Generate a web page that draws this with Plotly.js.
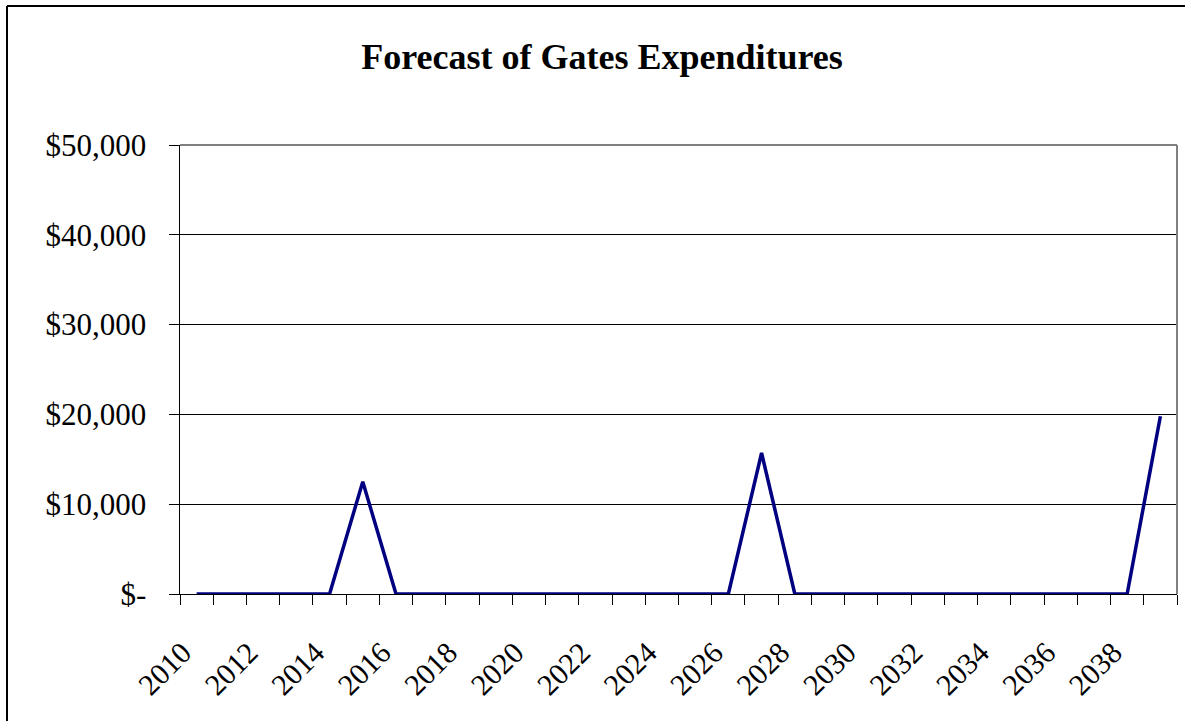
<!DOCTYPE html>
<html>
<head>
<meta charset="utf-8">
<script src="https://cdn.plot.ly/plotly-3.0.1.min.js"></script>
<style>
html,body{margin:0;padding:0;background:#fff;}
#chart{width:1185px;height:721px;}
</style>
</head>
<body>
<div id="chart"></div>
<script>
var years = [2010,2011,2012,2013,2014,2015,2016,2017,2018,2019,2020,2021,2022,2023,2024,2025,2026,2027,2028,2029,2030,2031,2032,2033,2034,2035,2036,2037,2038,2039];
var expenditures = [0,0,0,0,0,12500,0,0,0,0,0,0,0,0,0,0,0,15700,0,0,0,0,0,0,0,0,0,0,0,19800];
var xTickVals = [2010,2012,2014,2016,2018,2020,2022,2024,2026,2028,2030,2032,2034,2036,2038];
var xTickText = ['2010','2012','2014','2016','2018','2020','2022','2024','2026','2028','2030','2032','2034','2036','2038'];
var yTickVals = [0,10000,20000,30000,40000,50000];
var yTickText = ['$-','$10,000','$20,000','$30,000','$40,000','$50,000'];

var boundaries = [];
for (var i = 0; i <= years.length; i++) boundaries.push(years[0] - 0.5 + i);

var serif = 'Liberation Serif, Times New Roman, serif';

var trace = {
  x: years,
  y: expenditures,
  type: 'scatter',
  mode: 'lines',
  line: {color: '#000080', width: 3.5},
  cliponaxis: false,
  hoverinfo: 'x+y'
};

var bx = (7 - 180) / 997;
var by = (594 - 6) / 449;

var layout = {
  width: 1185,
  height: 721,
  margin: {l: 180, r: 8, t: 145, b: 127},
  paper_bgcolor: '#ffffff',
  plot_bgcolor: '#ffffff',
  showlegend: false,
  title: {
    text: '<b>Forecast of Gates Expenditures</b>',
    font: {family: serif, size: 36, color: '#000'},
    x: 0.508, xref: 'container', xanchor: 'center',
    y: 0.922, yref: 'container', yanchor: 'middle'
  },
  xaxis: {
    type: 'linear',
    range: [years[0] - 0.5, years[years.length - 1] + 0.5],
    tickmode: 'array',
    tickvals: xTickVals,
    ticktext: xTickText,
    ticks: '',
    tickangle: -45,
    ticklabelstandoff: 28,
    ticklabelshift: -14,
    tickfont: {family: serif, size: 30, color: '#000'},
    showgrid: false,
    zeroline: false,
    showline: true,
    linecolor: '#000',
    linewidth: 1,
    minor: {tickmode: 'array', tickvals: boundaries, ticks: 'outside', ticklen: 10, tickcolor: '#000', tickwidth: 1, showgrid: false},
    fixedrange: true
  },
  yaxis: {
    range: [0, 50000],
    tickmode: 'array',
    tickvals: yTickVals,
    ticktext: yTickText,
    ticks: 'outside',
    ticklen: 10,
    tickcolor: '#000',
    tickwidth: 1,
    ticklabelstandoff: 16,
    tickfont: {family: serif, size: 31, color: '#000'},
    showgrid: true,
    gridcolor: '#000',
    gridwidth: 1,
    zeroline: false,
    showline: true,
    linecolor: '#000',
    linewidth: 1.5,
    fixedrange: true
  },
  shapes: [
    {type: 'line', xref: 'paper', yref: 'paper', x0: 0, x1: 1, y0: 1, y1: 1, line: {color: '#808080', width: 2}, layer: 'above'},
    {type: 'line', xref: 'paper', yref: 'paper', x0: 1, x1: 1, y0: 0, y1: 1, line: {color: '#808080', width: 2}, layer: 'above'},
    {type: 'line', xref: 'paper', yref: 'paper', x0: bx, x1: bx, y0: -0.4, y1: by, line: {color: '#000', width: 2}},
    {type: 'line', xref: 'paper', yref: 'paper', x0: bx, x1: 1.1, y0: by, y1: by, line: {color: '#000', width: 2}}
  ]
};

Plotly.newPlot('chart', [trace], layout, {displayModeBar: false, staticPlot: true});
</script>
</body>
</html>
